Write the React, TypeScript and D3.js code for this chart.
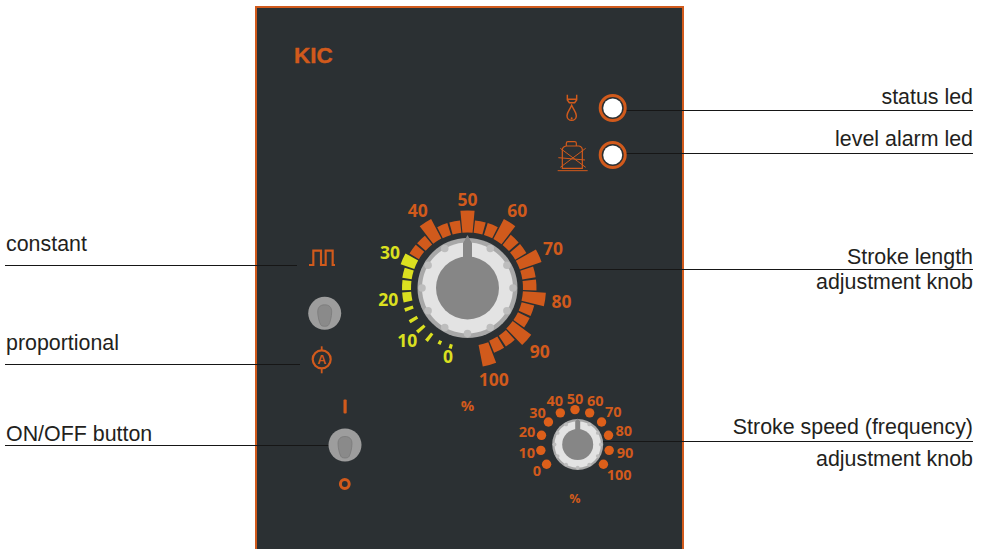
import React from "react";
import * as d3 from "d3";

const W = 986, H = 549;
const ORANGE = "#d15a1c", YELLOW = "#dbe020", PANEL = "#2b3033";

// Big dial
const bigValues = d3.range(0, 31).map((i) => i);
const bigOuter = [63, 63, 67, 67, 67, 66.5, 65.5, 65.5, 66, 71, 67.5, 67.5, 78, 68, 68, 77.5, 68, 68, 78, 68.5, 68.5, 78.5, 69, 69, 78.5, 69, 69, 79, 70, 70, 80];
const bigWidth = [3, 3, 3, 3, 3.2, 3.2, 9, 9, 9, 9.5, 9.2, 9.2, 10, 9.2, 9.2, 10.5, 9.2, 9.2, 10, 9.2, 9.2, 10, 9.2, 9.2, 10, 9.2, 9.2, 10, 9.2, 9.2, 10];
const bigInner = [58.5, 59, 57.5, 57, 58, 57.6, 56.5, 56.5, 56.5, 56.5, 56.5, 56, 56, 55.5, 55.5, 55.5, 55.5, 55.5, 55.5, 55.5, 55.5, 55.5, 55.5, 55.5, 55.5, 56, 56, 56, 57, 57, 58];
const bigLabels = ["0", "10", "20", "30", "40", "50", "60", "70", "80", "90", "100"];
const bigLabelR = [71, 80, 80, 85, 92, 88, 92, 94, 95, 96, 95];
const bigLabelYellowBelow = 4;

// Small dial
const smallLabels = ["0", "10", "20", "30", "40", "50", "60", "70", "80", "90", "100"];
const smallLabelR = [46.6, 49, 49.7, 48.8, 48, 46, 48, 50, 50.6, 50.8, 54];

// Knob notches
const notchHours = d3.range(0, 12);

// Annotations
const leftNotes = [
  { text: "constant", y: 251, line: 266, x2: 297 },
  { text: "proportional", y: 350, line: 365, x2: 300 },
  { text: "ON/OFF button", y: 441, line: 446, x2: 330 },
];
const rightNotes = [
  { text: "status led", y: 104, line: 111, x1: 626 },
  { text: "level alarm led", y: 146, line: 154, x1: 626 },
  { text: "Stroke length", y: 264, line: 270, x1: 570 },
  { text: "Stroke speed (frequency)", y: 434, line: 442, x1: 603 },
];
const rightSecond = [
  { text: "adjustment knob", y: 289 },
  { text: "adjustment knob", y: 466 },
];

const bigAngle = d3.scaleLinear().domain([0, 30]).range([-164, 164]);
const smallAngle = d3.scaleLinear().domain([0, 10]).range([-125, 125]);
const rad = (d: number) => (d * Math.PI) / 180;
const polar = (a: number, r: number): [number, number] => [Math.sin(rad(a)) * r, -Math.cos(rad(a)) * r];
const arc = d3.arc();

const LABEL_FONT = "'Open Sans', sans-serif";
const TEXT_FONT = "'Liberation Sans', Arial, sans-serif";
const NOTE_SIZE = 21.4;
const LINE = "#161616";

function Switch({ x, y }: { x: number; y: number }) {
  return (
    <g transform={`translate(${x},${y})`}>
      <circle r={16.5} fill="#9d9d9d" />
      <path
        d="M0,-7.5 C4.5,-7.5 7,-5 7,-0.5 C7,4 5.5,10 4,12.5 C3,14.5 -3,14.5 -4,12.5 C-5.5,10 -7,4 -7,-0.5 C-7,-5 -4.5,-7.5 0,-7.5 Z"
        transform="translate(0,-1)"
        fill="#8a8a8a"
        stroke="#777"
        strokeWidth={0.7}
      />
    </g>
  );
}

function Knob({ x, y, r, hubR, tipR, shoulderR, pw }: { x: number; y: number; r: number; hubR: number; tipR: number; shoulderR: number; pw: number }) {
  const mid = r * 0.91;
  return (
    <g transform={`translate(${x},${y})`}>
      <circle r={r} fill="#a8a8a8" />
      <circle r={mid} fill="#e3e3e3" />
      {notchHours.map((h) => {
        const [nx, ny] = polar(h * 30, mid);
        return <circle key={h} cx={nx} cy={ny} r={r * 0.075} fill="#bdbdbd" />;
      })}
      <circle r={hubR} fill="#868686" />
      <path
        d={`M${-pw / 2},${-hubR + 2} L${-pw / 2},${-shoulderR} L0,${-tipR} L${pw / 2},${-shoulderR} L${pw / 2},${-hubR + 2} Z`}
        fill="#868686"
      />
    </g>
  );
}

export default function App() {
  const cx = 467.5, cy = 288;
  const sx = 575, sy = 444.3;
  return (
    <svg width={W} height={H} viewBox={`0 0 ${W} ${H}`} style={{ position: "absolute", left: 0, top: 0, background: "#fff" }}>
      <rect x={256} y={7} width={427} height={H} fill={PANEL} stroke={ORANGE} strokeWidth={2} />

      <text x={294} y={63} fontFamily={TEXT_FONT} fontWeight="bold" fontSize={22.5} fill={ORANGE} stroke={ORANGE} strokeWidth={0.4}>KIC</text>

      {/* Leader lines and notes */}
      {leftNotes.map((n) => (
        <g key={n.text}>
          <text x={6} y={n.y} fontFamily={TEXT_FONT} fontSize={NOTE_SIZE} fill="#231f20">{n.text}</text>
          <line x1={5} x2={n.x2} y1={n.line - 0.5} y2={n.line - 0.5} stroke={LINE} strokeWidth={1} />
        </g>
      ))}
      {rightNotes.map((n) => (
        <g key={n.text}>
          <text x={973} y={n.y} textAnchor="end" fontFamily={TEXT_FONT} fontSize={NOTE_SIZE} fill="#231f20">{n.text}</text>
          <line x1={n.x1} x2={973} y1={n.line - 0.5} y2={n.line - 0.5} stroke={LINE} strokeWidth={1} />
        </g>
      ))}
      {rightSecond.map((n) => (
        <text key={n.y} x={973} y={n.y} textAnchor="end" fontFamily={TEXT_FONT} fontSize={NOTE_SIZE} fill="#231f20">{n.text}</text>
      ))}

      {/* LEDs */}
      {[108, 155].map((y) => (
        <g key={y}>
          <circle cx={612.7} cy={y} r={12.5} fill={PANEL} stroke={ORANGE} strokeWidth={3} />
          <circle cx={612.7} cy={y} r={9.5} fill="#fff" />
        </g>
      ))}

      {/* Drop icon */}
      <g transform="translate(545,80) scale(0.3333)" fill="none" stroke={ORANGE} strokeWidth={4.4}>
        <path d="M67,44 V60 L73,68 H89 L95,60 V44 M67,58 H95" />
        <path d="M80,76 C74,90 66,96 66,107 A14,14 0 0 0 94,107 C94,96 86,90 80,76 Z" />
        <circle cx={80} cy={115} r={3} fill={ORANGE} stroke="none" />
      </g>

      {/* Canister icon */}
      <g transform="translate(545,80) scale(0.3333)" fill="none" stroke={ORANGE} strokeWidth={3.6}>
        <path d="M52,210 Q52,200 64,198 H102 Q112,200 112,210 V265 H52 Z" />
        <path d="M64,198 V190 Q64,185 69,185 H89 Q94,185 94,190 V198" />
        <path d="M38,272 H128 M46,205 L122,262 M46,262 L122,205 M40,233 L120,240" strokeWidth={3} />
      </g>

      {/* Square wave */}
      <path
        transform="translate(290,240) scale(0.3333)"
        d="M57,75 H70 V32 H93 V75 H107 V32 H128 V75 H135"
        fill="none"
        stroke={ORANGE}
        strokeWidth={6.5}
      />
      <Switch x={324.7} y={313.3} />

      {/* Ammeter */}
      <g transform="translate(321.7,359.3)">
        <circle r={9} fill="none" stroke={ORANGE} strokeWidth={2.2} />
        <line y1={-13} y2={-9} stroke={ORANGE} strokeWidth={1.8} />
        <line y1={9} y2={14} stroke={ORANGE} strokeWidth={1.8} />
        <text y={4.5} textAnchor="middle" fontFamily={TEXT_FONT} fontWeight="bold" fontSize={12.5} fill={ORANGE}>A</text>
      </g>

      {/* ON/OFF */}
      <rect x={343.5} y={399.5} width={3.2} height={14} rx={1} fill={ORANGE} />
      <Switch x={345} y={445} />
      <circle cx={344.8} cy={484} r={4.4} fill="none" stroke={ORANGE} strokeWidth={3} />

      {/* Big dial */}
      <g transform={`translate(${cx},${cy})`}>
        {bigValues.map((i) => {
          const a = bigAngle(i);
          const w = bigWidth[i];
          const d = arc({
            innerRadius: bigInner[i],
            outerRadius: bigOuter[i],
            startAngle: rad(a - w / 2),
            endAngle: rad(a + w / 2),
          } as any) as string;
          return <path key={i} d={d} fill={i <= 9 ? YELLOW : ORANGE} />;
        })}
        {bigLabels.map((t, i) => {
          const [lx, ly] = polar(bigAngle(i * 3), bigLabelR[i]);
          return (
            <text key={t} x={lx} y={ly} dy="0.36em" textAnchor="middle" fontFamily={LABEL_FONT} fontWeight="bold" fontSize={17.5}
              fill={i < bigLabelYellowBelow ? YELLOW : ORANGE}>{t}</text>
          );
        })}
      </g>
      <Knob x={cx} y={cy} r={50} hubR={31.5} tipR={53} shoulderR={45} pw={9} />
      <text x={467.5} y={411} textAnchor="middle" fontFamily={LABEL_FONT} fontWeight="bold" fontSize={15} fill={ORANGE}>%</text>

      {/* Small dial */}
      <g transform={`translate(${sx},${sy})`}>
        {smallLabels.map((t, i) => {
          const a = smallAngle(i);
          const [dx, dy] = polar(a, 34.7);
          const [lx, ly] = polar(a, smallLabelR[i]);
          return (
            <g key={t}>
              <circle cx={dx} cy={dy} r={4.7} fill="#dc5f1a" />
              <text x={lx} y={ly} dy="0.36em" textAnchor="middle" fontFamily={LABEL_FONT} fontWeight="bold" fontSize={14.5} fill={ORANGE}>{t}</text>
            </g>
          );
        })}
      </g>
      <Knob x={577.7} y={444.5} r={25.5} hubR={15.5} tipR={26} shoulderR={23} pw={5} />
      <text x={575} y={503} textAnchor="middle" fontFamily={LABEL_FONT} fontWeight="bold" fontSize={12.5} fill={ORANGE}>%</text>
    </svg>
  );
}
